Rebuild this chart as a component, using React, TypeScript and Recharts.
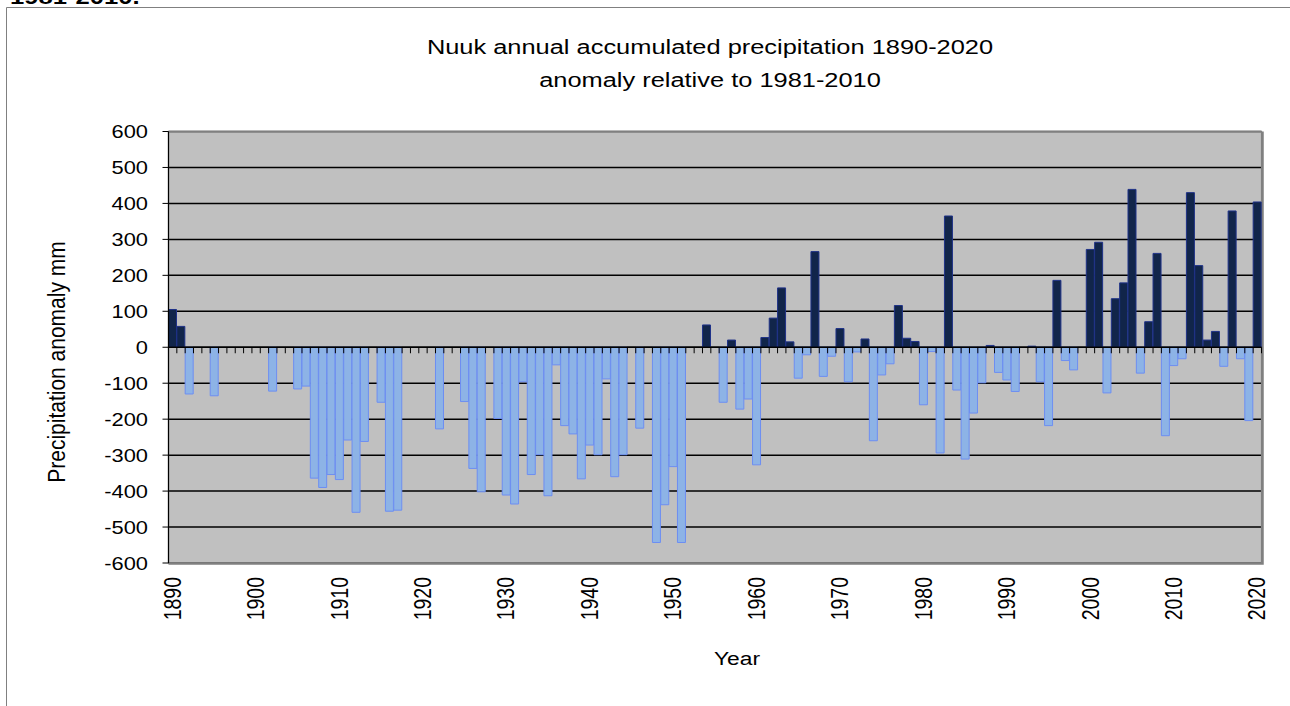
import {
  BarChart,
  Bar,
  Cell,
  XAxis,
  YAxis,
  CartesianGrid,
  ReferenceLine,
  ReferenceArea,
} from "recharts";

const firstYear = 1890;

// annual precipitation anomaly (mm) vs 1981-2010, null = no bar
const anomaly: (number | null)[] = [
  // 1890-1899
  105, 58, -130, null, null, -135, null, null, null, null,
  // 1900-1909
  null, null, -122, null, null, -116, -108, -364, -390, -354,
  // 1910-1919
  -368, -258, -459, -262, null, -153, -456, -453, null, null,
  // 1920-1929
  null, null, -227, null, null, -151, -337, -402, null, -198,
  // 1930-1939
  -411, -436, -96, -354, -299, -413, -49, -218, -241, -366,
  // 1940-1949
  -272, -299, -88, -360, -299, null, -225, null, -543, -438,
  // 1950-1959
  -332, -543, null, null, 62, null, -153, 20, -172, -144,
  // 1960-1969
  -327, 27, 81, 165, 15, -86, -21, 266, -81, -25,
  // 1970-1979
  52, -96, -13, 23, -260, -77, -46, 116, 25, 16,
  // 1980-1989
  -160, -12, -294, 365, -119, -311, -183, -99, 5, -70,
  // 1990-1999
  -91, -123, null, 3, -96, -218, 186, -37, -63, null,
  // 2000-2009
  272, 292, -127, 135, 179, 439, -72, 71, 261, -246,
  // 2010-2019
  -51, -32, 430, 227, 20, 44, -53, 379, -32, -204,
  // 2020
  404,
];

const xTicks = [1890, 1900, 1910, 1920, 1930, 1940, 1950, 1960, 1970, 1980, 1990, 2000, 2010, 2020];
const yTicks = [-600, -500, -400, -300, -200, -100, 0, 100, 200, 300, 400, 500, 600];

const data = anomaly.map((value, i) => ({ year: firstYear + i, value }));

const FONT = "'Liberation Sans', Arial, sans-serif";
const POS_FILL = "#11254a";
const POS_STROKE = "#1f3288";
const NEG_FILL = "#8db3e6";
const NEG_STROKE = "#6d8ef2";

const YTick = ({ x, y, payload }: any) => (
  <text
    transform={`translate(${x},${y}) scale(1.15,1)`}
    textAnchor="end"
    dy="0.35em"
    fontSize={19}
    fontFamily={FONT}
    fill="#000"
  >
    {payload.value}
  </text>
);

const XTick = ({ x, y, payload }: any) => (
  <text
    transform={`translate(${x},${y}) rotate(-90) scale(1,1.18)`}
    textAnchor="end"
    dy="0.35em"
    fontSize={19.5}
    fontFamily={FONT}
    fill="#000"
  >
    {payload.value}
  </text>
);

// zero line with small tick marks between the years
const ZeroAxis = (p: any) => {
  const { x1, y1, x2 } = p;
  const step = (x2 - x1) / anomaly.length;
  return (
    <g>
      <line x1={x1} y1={y1} x2={x2} y2={y1} stroke="#000" strokeWidth={1.4} />
      {anomaly.map((_, i) => {
        const tx = x1 + step * (i + 1);
        return <line key={i} x1={tx} x2={tx} y1={y1} y2={y1 + 6} stroke="#000" strokeWidth={1} />;
      })}
    </g>
  );
};

const PlotFrame = (p: any) => {
  const { x, y, width, height } = p;
  return (
    <g fill="none" stroke="#808080">
      <rect x={x} y={y} width={width} height={height} strokeWidth={1.2} />
      <path d={`M${x} ${y + height + 0.5} H${x + width + 1} V${y}`} strokeWidth={2.5} />
    </g>
  );
};

export default function App() {
  return (
    <div
      style={{
        position: "absolute",
        left: 0,
        top: 0,
        width: 1290,
        height: 706,
        background: "#fff",
        overflow: "hidden",
      }}
    >
      <BarChart
        width={1290}
        height={706}
        data={data}
        margin={{ top: 131.5, right: 28.5, bottom: 83, left: 68.5 }}
        barCategoryGap={0}
        barGap={0}
      >
        <CartesianGrid
          vertical={false}
          fill="#c0c0c0"
          stroke="#000"
          strokeWidth={1.5}
          strokeOpacity={1}
        />
        <ReferenceArea y1={-600} y2={600} shape={PlotFrame} />
        <XAxis
          dataKey="year"
          type="category"
          ticks={xTicks}
          interval={0}
          axisLine={false}
          tickLine={false}
          tickSize={0}
          tickMargin={14}
          height={60}
          tick={XTick}
        />
        <YAxis
          type="number"
          domain={[-600, 600]}
          ticks={yTicks}
          interval={0}
          width={100}
          axisLine={{ stroke: "#000", strokeWidth: 1.2 }}
          tickLine={{ stroke: "#000" }}
          tickSize={6}
          tickMargin={14.5}
          tick={YTick}
        />
        <Bar dataKey="value" isAnimationActive={false} strokeWidth={1}>
          {data.map((d, i) => {
            const pos = d.value !== null && d.value >= 0;
            return (
              <Cell
                key={i}
                fill={pos ? POS_FILL : NEG_FILL}
                stroke={pos ? POS_STROKE : NEG_STROKE}
              />
            );
          })}
        </Bar>
        <ReferenceLine y={0} shape={ZeroAxis} />
      </BarChart>

      <svg
        width={1290}
        height={706}
        style={{ position: "absolute", left: 0, top: 0, pointerEvents: "none" }}
        fontFamily={FONT}
      >
        <path d="M6.5 706 V7.5 H1290" fill="none" stroke="#808080" strokeWidth={1} />
        <text
          transform="translate(10,4) scale(1.22,1)"
          fontSize={21}
          fontWeight="bold"
          fill="#000"
        >
          1981-2010.
        </text>
        <g fontSize={20} fill="#000" textAnchor="middle">
          <text transform="translate(710,54) scale(1.27,1)">
            Nuuk annual accumulated precipitation 1890-2020
          </text>
          <text transform="translate(710,87) scale(1.27,1)">
            anomaly relative to 1981-2010
          </text>
        </g>
        <text
          transform="translate(57,362) rotate(-90) scale(1,1.12)"
          textAnchor="middle"
          dy="0.35em"
          fontSize={21}
          fill="#000"
        >
          Precipitation anomaly mm
        </text>
        <text
          transform="translate(737,658) scale(1.2,1)"
          textAnchor="middle"
          dy="0.35em"
          fontSize={19}
          fill="#000"
        >
          Year
        </text>
      </svg>
    </div>
  );
}
